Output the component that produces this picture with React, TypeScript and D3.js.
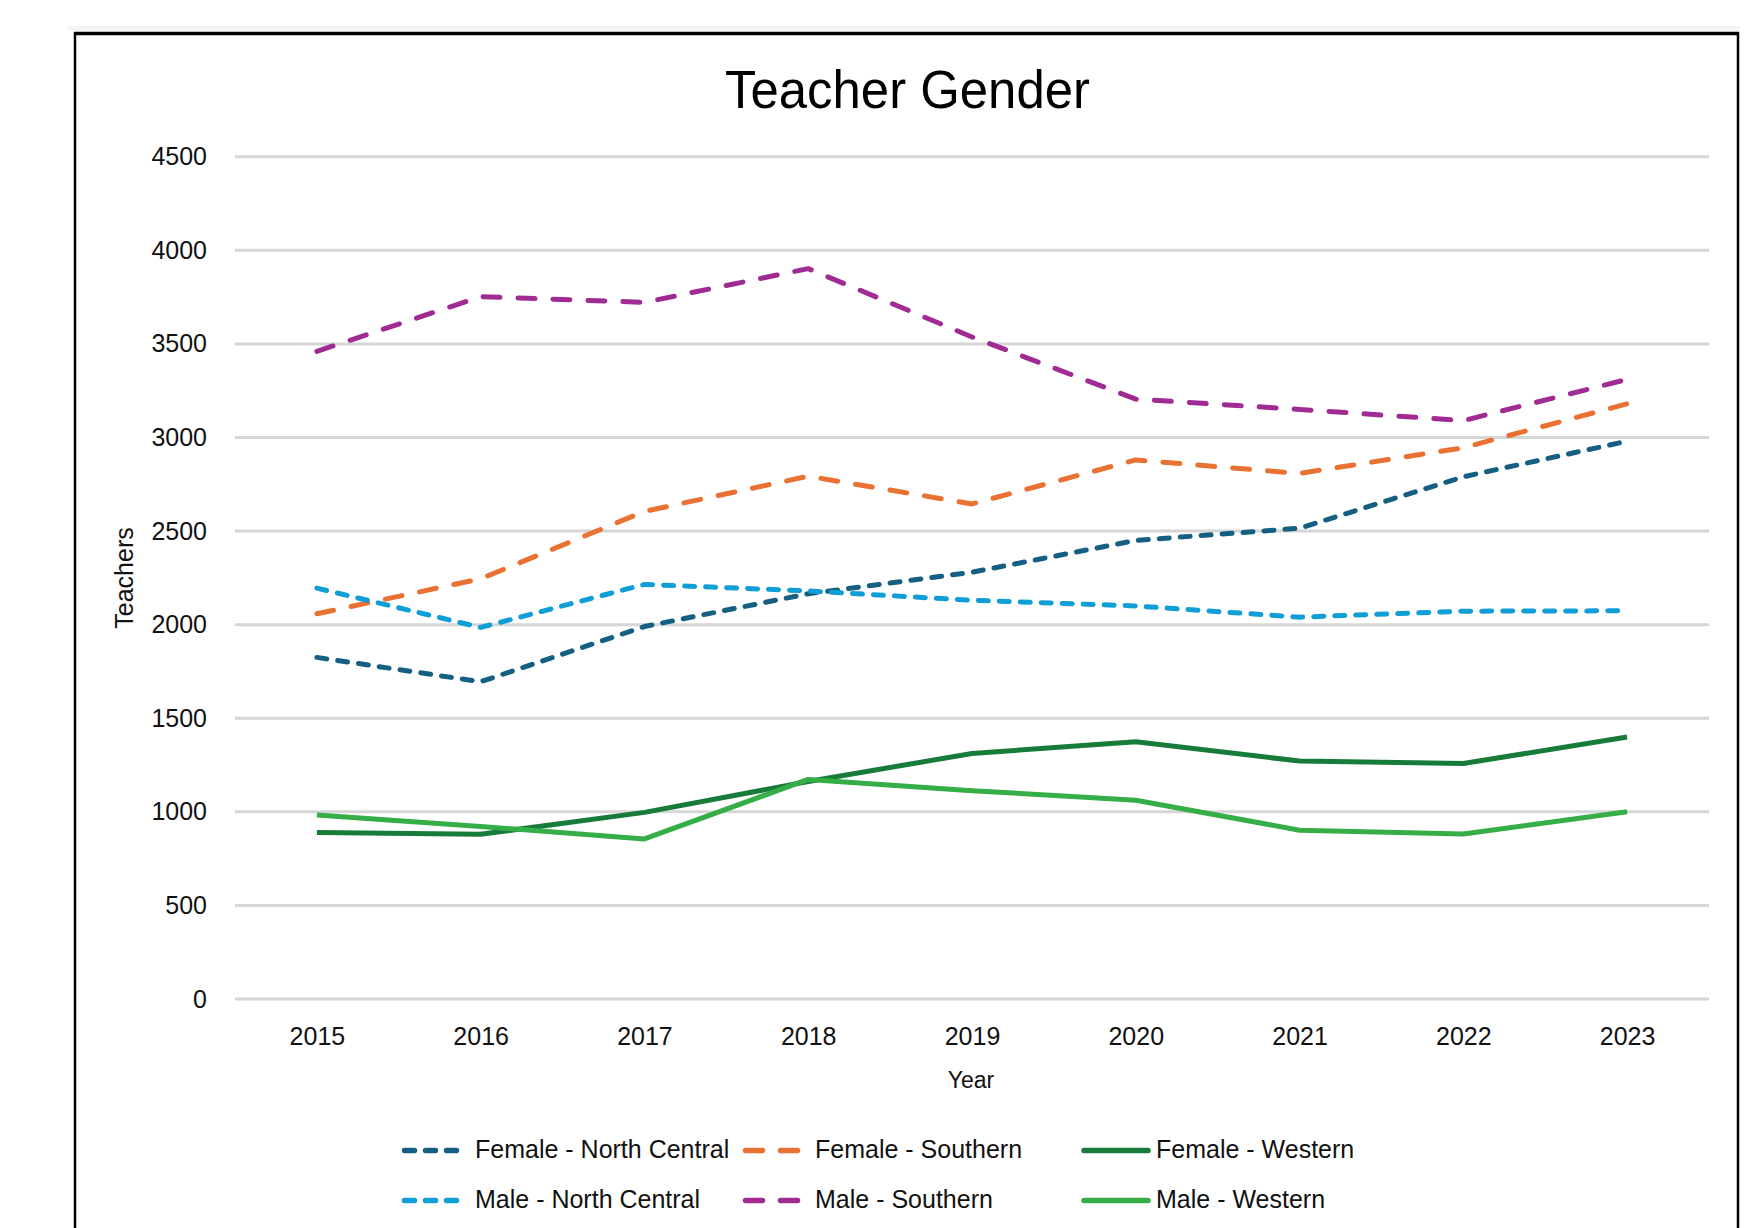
import React, { useEffect, useRef } from "react";
import * as d3 from "d3";

const years = ["2015", "2016", "2017", "2018", "2019", "2020", "2021", "2022", "2023"];
const yTicks = [0, 500, 1000, 1500, 2000, 2500, 3000, 3500, 4000, 4500];

const femaleNorthCentral = [1825, 1695, 1990, 2165, 2280, 2450, 2515, 2790, 2980];
const femaleSouthern = [2058, 2245, 2605, 2793, 2645, 2880, 2808, 2945, 3180];
const femaleWestern = [890, 880, 997, 1162, 1312, 1374, 1271, 1258, 1400];
const maleNorthCentral = [2195, 1985, 2215, 2180, 2130, 2100, 2040, 2072, 2074];
const maleSouthern = [3460, 3752, 3722, 3902, 3537, 3205, 3150, 3090, 3310];
const maleWestern = [983, 922, 855, 1173, 1113, 1062, 902, 881, 1000];

const seriesNames = [
  "Female - North Central",
  "Female - Southern",
  "Female - Western",
  "Male - North Central",
  "Male - Southern",
  "Male - Western",
];
const seriesColors = ["#156082", "#E97132", "#177C3A", "#0F9ED5", "#A02B93", "#35AE48"];
const seriesDash = ["10 11", "17 18", null, "10 11", "17 18", null];

const App = () => {
  const svgRef = useRef<SVGSVGElement>(null);

  useEffect(() => {
    const width = 1761;
    const height = 1228;
    const plot = { left: 235, right: 1709, top: 156.7, bottom: 999 };
    const font = "'Liberation Sans', Arial, sans-serif";

    const svg = d3.select(svgRef.current).attr("width", width).attr("height", height);
    svg.selectAll("*").remove();
    svg.style("font-family", font);

    svg.append("rect").attr("width", width).attr("height", height).attr("fill", "#fff");

    // faint strip above frame + frame
    svg.append("rect").attr("x", 68).attr("y", 26).attr("width", 1672).attr("height", 5).attr("fill", "#f6f6f6");
    svg
      .append("path")
      .attr("d", `M75,${height + 10} L75,33.5 L1738,33.5 L1738,${height + 10}`)
      .attr("fill", "none")
      .attr("stroke", "#000")
      .attr("stroke-width", 2.5);
    svg.append("line").attr("x1", 74).attr("x2", 1739).attr("y1", 33.5).attr("y2", 33.5).attr("stroke", "#000").attr("stroke-width", 3.5);

    const x = d3.scalePoint().domain(years).range([plot.left, plot.right]).padding(0.5);
    const y = d3.scaleLinear().domain([0, 4500]).range([plot.bottom, plot.top]);

    // gridlines
    svg
      .append("g")
      .selectAll("line")
      .data(yTicks)
      .join("line")
      .attr("x1", plot.left)
      .attr("x2", plot.right)
      .attr("y1", (d) => y(d))
      .attr("y2", (d) => y(d))
      .attr("stroke", "#d6d6d6")
      .attr("stroke-width", 3);

    // y axis
    const yAxis = svg
      .append("g")
      .attr("transform", `translate(${plot.left},0)`)
      .call(d3.axisLeft(y).tickValues(yTicks).tickFormat(d3.format("d")).tickSize(0).tickPadding(28));
    yAxis.select(".domain").remove();
    yAxis.selectAll("text").style("font-size", "25px").attr("fill", "#111").style("font-family", font);

    // x axis
    const xAxis = svg
      .append("g")
      .attr("transform", `translate(0,${plot.bottom})`)
      .call(d3.axisBottom(x).tickSize(0).tickPadding(28));
    xAxis.select(".domain").remove();
    xAxis.selectAll("text").style("font-size", "25px").attr("fill", "#111").style("font-family", font);

    // axis titles
    svg
      .append("text")
      .attr("x", 971)
      .attr("y", 1088)
      .attr("text-anchor", "middle")
      .style("font-size", "23px")
      .attr("fill", "#111")
      .text("Year");

    svg
      .append("text")
      .attr("transform", "translate(133,578) rotate(-90)")
      .attr("text-anchor", "middle")
      .style("font-size", "25px")
      .attr("fill", "#111")
      .text("Teachers");

    // title
    svg
      .append("text")
      .attr("x", 907.5)
      .attr("y", 108)
      .attr("text-anchor", "middle")
      .attr("textLength", 365)
      .attr("lengthAdjust", "spacingAndGlyphs")
      .style("font-size", "53px")
      .attr("fill", "#000")
      .text("Teacher Gender");

    // lines
    const allSeries = [femaleNorthCentral, femaleSouthern, femaleWestern, maleNorthCentral, maleSouthern, maleWestern];
    const line = d3
      .line<number>()
      .x((_, i) => x(years[i]) as number)
      .y((d) => y(d));

    allSeries.forEach((values, i) => {
      svg
        .append("path")
        .datum(values)
        .attr("d", line)
        .attr("fill", "none")
        .attr("stroke", seriesColors[i])
        .attr("stroke-width", 5)
        .attr("stroke-linejoin", "round")
        .attr("stroke-linecap", seriesDash[i] ? "round" : "butt")
        .attr("stroke-dasharray", seriesDash[i]);
    });

    // legend
    const colX = [402, 743, 1084];
    const textX = [475, 815, 1156];
    const rowY = [1150.5, 1200.5];
    seriesNames.forEach((name, i) => {
      const col = i % 3;
      const row = Math.floor(i / 3);
      const g = svg.append("g");
      const dashed = !!seriesDash[i];
      g.append("line")
        .attr("x1", colX[col] + (dashed ? 2.5 : 0))
        .attr("x2", colX[col] + (dashed ? 58 : 64))
        .attr("y1", rowY[row])
        .attr("y2", rowY[row])
        .attr("stroke", seriesColors[i])
        .attr("stroke-width", 5.5)
        .attr("stroke-linecap", "round")
        .attr("stroke-dasharray", seriesDash[i]);
      g.append("text")
        .attr("x", textX[col])
        .attr("y", rowY[row] + 7)
        .style("font-size", "25px")
        .attr("fill", "#111")
        .text(name);
    });
  }, []);

  return (
    <div style={{ position: "absolute", left: 0, top: 0 }}>
      <svg ref={svgRef} style={{ display: "block" }}></svg>
    </div>
  );
};

export default App;
